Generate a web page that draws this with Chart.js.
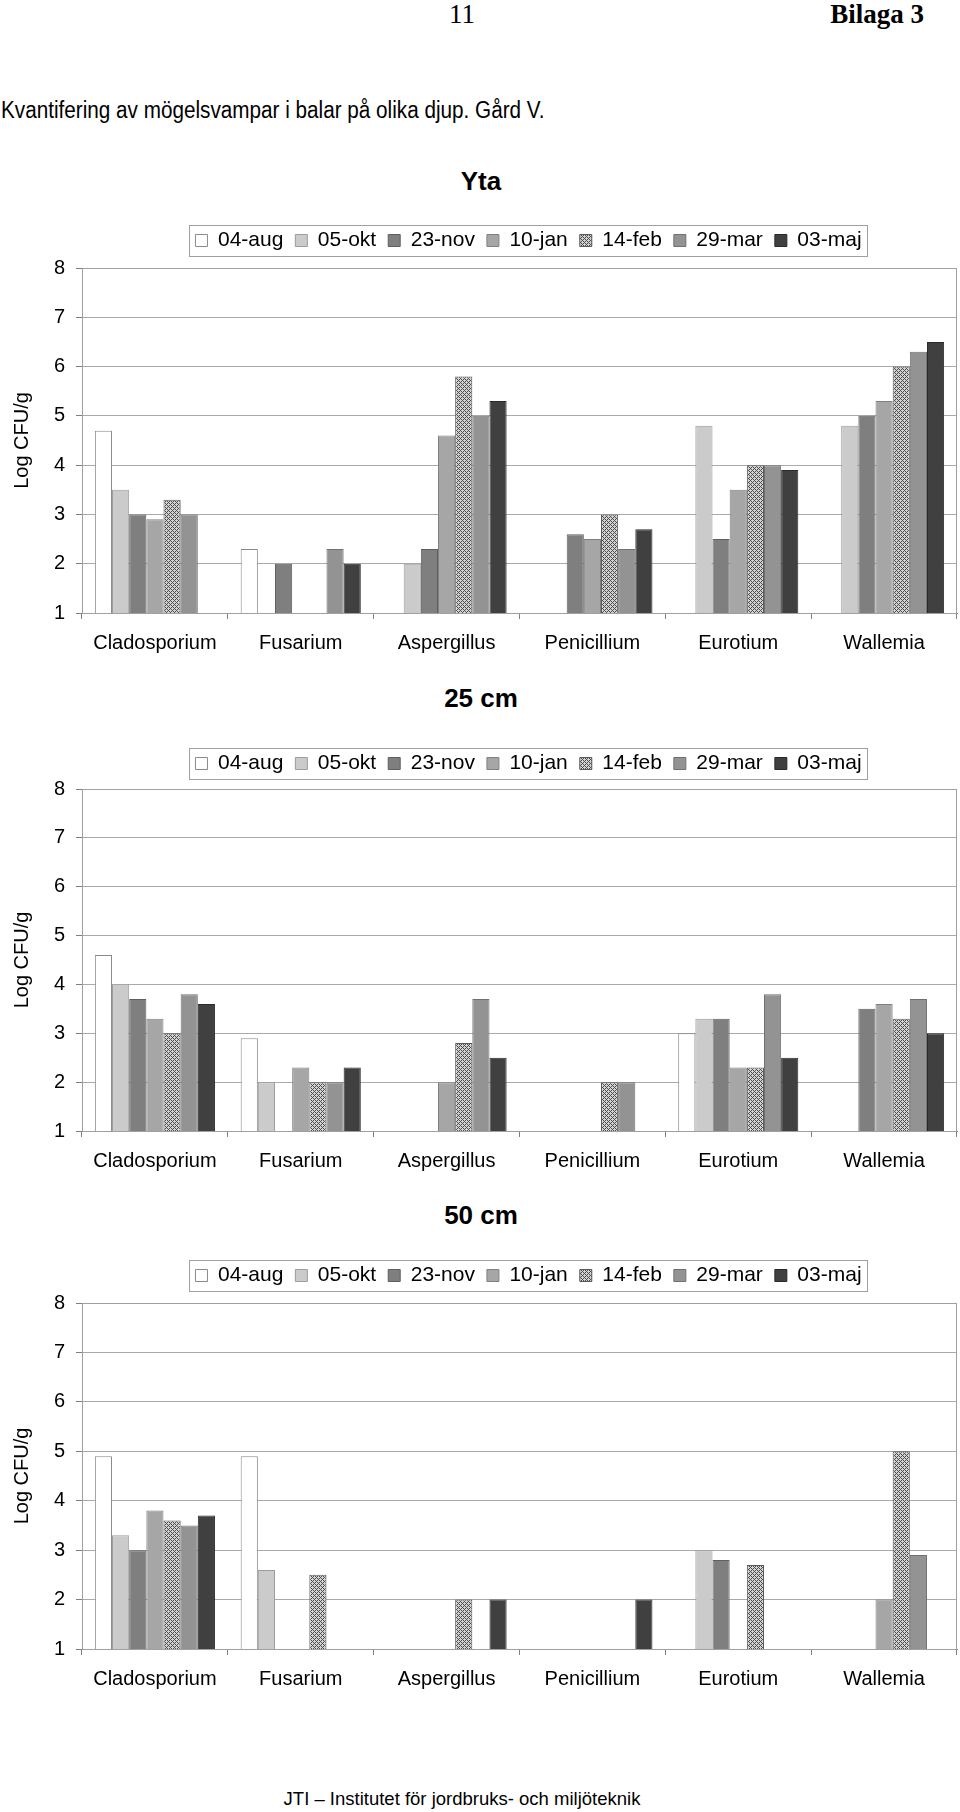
<!DOCTYPE html>
<html lang="sv">
<head>
<meta charset="utf-8">
<title>Kvantifering av mögelsvampar – Gård V</title>
<script src="https://cdn.jsdelivr.net/npm/chart.js@4.4.1/dist/chart.umd.min.js"></script>
<style>
  html, body { margin: 0; padding: 0; background: #fff; }
  body {
    position: relative; width: 960px; height: 1812px; overflow: hidden;
    font-family: "Liberation Sans", Arial, sans-serif; color: #000;
  }
  .txt { position: absolute; white-space: nowrap; line-height: 1; }
  .serif { font-family: "Liberation Serif", "Times New Roman", serif; }
  .title { font-weight: bold; font-size: 26px; left: 481px; transform: translateX(-50%); }
  canvas { position: absolute; left: 0; }
</style>
</head>
<body>

<div class="txt serif" style="left:462px; top:1px; font-size:27px; transform:translateX(-50%)">11</div>
<div class="txt serif" style="right:36px; top:1px; font-size:27px; font-weight:bold">Bilaga 3</div>
<div class="txt" style="left:1px; top:99px; font-size:23px; transform:scaleX(0.9); transform-origin:0 0">Kvantifering av mögelsvampar i balar på olika djup. Gård V.</div>

<div class="txt title" style="top:168px">Yta</div>
<div class="txt title" style="top:685px">25 cm</div>
<div class="txt title" style="top:1202px">50 cm</div>

<canvas id="chartYta"></canvas>
<canvas id="chart25"></canvas>
<canvas id="chart50"></canvas>

<div class="txt" style="left:462px; top:1790px; font-size:18.5px; transform:translateX(-50%)">JTI – Institutet för jordbruks- och miljöteknik</div>

<script>
// --- Data (Log CFU/g, null = no bar) ---
const categories = ['Cladosporium', 'Fusarium', 'Aspergillus', 'Penicillium', 'Eurotium', 'Wallemia'];
const dates = ['04-aug', '05-okt', '23-nov', '10-jan', '14-feb', '29-mar', '03-maj'];

// Yta
const yta04aug = [4.7, 2.3, null, null, null, null];
const yta05okt = [3.5, null, 2.0, null, 4.8, 4.8];
const yta23nov = [3.0, 2.0, 2.3, 2.6, 2.5, 5.0];
const yta10jan = [2.9, null, 4.6, 2.5, 3.5, 5.3];
const yta14feb = [3.3, null, 5.8, 3.0, 4.0, 6.0];
const yta29mar = [3.0, 2.3, 5.0, 2.3, 4.0, 6.3];
const yta03maj = [null, 2.0, 5.3, 2.7, 3.9, 6.5];

// 25 cm
const d25_04aug = [4.6, 2.9, null, null, 3.0, null];
const d25_05okt = [4.0, 2.0, null, null, 3.3, null];
const d25_23nov = [3.7, null, null, null, 3.3, 3.5];
const d25_10jan = [3.3, 2.3, 2.0, null, 2.3, 3.6];
const d25_14feb = [3.0, 2.0, 2.8, 2.0, 2.3, 3.3];
const d25_29mar = [3.8, 2.0, 3.7, 2.0, 3.8, 3.7];
const d25_03maj = [3.6, 2.3, 2.5, null, 2.5, 3.0];

// 50 cm
const d50_04aug = [4.9, 4.9, null, null, null, null];
const d50_05okt = [3.3, 2.6, null, null, 3.0, null];
const d50_23nov = [3.0, null, null, null, 2.8, null];
const d50_10jan = [3.8, null, null, null, null, 2.0];
const d50_14feb = [3.6, 2.5, 2.0, null, 2.7, 5.0];
const d50_29mar = [3.5, null, null, null, null, 2.9];
const d50_03maj = [3.7, null, 2.0, 2.0, null, null];

const yMin = 1;
const yMax = 8;

// --- Styles ---
const fills = ['#ffffff', '#cbcbcb', '#7f7f7f', '#a6a6a6', null, '#939393', '#404040'];
const edges = ['#8a8a8a', '#9c9c9c', '#5f5f5f', '#808080', '#5a5a5a', '#707070', '#2a2a2a'];

// 14-feb is a crosshatched fill in the original
function hatch() {
    const c = document.createElement('canvas');
    c.width = c.height = 4;
    const g = c.getContext('2d');
    g.fillStyle = '#d4d4d4';
    g.fillRect(0, 0, 4, 4);
    g.fillStyle = '#4c4c4c';
    [[0, 0], [1, 1], [2, 2], [3, 3], [1, 3], [3, 1]].forEach(([x, y]) => g.fillRect(x, y, 1, 1));
    return g.createPattern(c, 'repeat');
}
const hatchFill = hatch();

const FONT = '"Liberation Sans", Arial, sans-serif';
Chart.defaults.font.family = FONT;
Chart.defaults.color = '#000';

// legend height fix, legend shift and the grey frames around legend and plot
const framePlugin = {
    id: 'frame',
    beforeLayout(chart, args, opts) {
        const lg = chart.legend;
        if (lg && !lg.$fixed) {
            const fit = lg.fit;
            lg.fit = function () { fit.call(this); this.height = opts.legendHeight; };
            lg.$fixed = true;
        }
    },
    afterLayout(chart, args, opts) {
        chart.legend.left += opts.legendShift;
        chart.legend.right += opts.legendShift;
    },
    beforeDatasetsDraw(chart) {
        const { ctx, chartArea: a } = chart;
        ctx.save();
        ctx.strokeStyle = '#a0a0a0';
        ctx.lineWidth = 1;
        ctx.strokeRect(Math.round(a.left) + 0.5, Math.round(a.top) + 0.5,
            Math.round(a.right - a.left) - 1, Math.round(a.bottom - a.top));
        ctx.restore();
    },
    afterDraw(chart) {
        const boxes = chart.legend.legendHitBoxes;
        if (!boxes || !boxes.length) return;
        const l = Math.min(...boxes.map(b => b.left)) - 6;
        const r = Math.max(...boxes.map(b => b.left + b.width)) + 6;
        const t = boxes[0].top - 5;
        const b = boxes[0].top + boxes[0].height + 5;
        const ctx = chart.ctx;
        ctx.save();
        ctx.strokeStyle = '#a0a0a0';
        ctx.lineWidth = 1;
        ctx.strokeRect(Math.round(l) + 0.5, Math.round(t) + 0.5, Math.round(r - l), Math.round(b - t));
        ctx.restore();
    }
};

function makeDatasets(series) {
    return dates.map((d, i) => ({
        label: d,
        data: series[i],
        backgroundColor: i === 4 ? hatchFill : fills[i],
        borderColor: edges[i],
        borderWidth: 1,
        categoryPercentage: 7 / 8.5,
        barPercentage: 1
    }));
}

function drawChart(id, series, box) {
    const canvas = document.getElementById(id);
    const top = Math.round(box.legendMid - 22.5);
    const axisHeight = 62;
    canvas.width = 960;
    canvas.height = Math.round(box.plotBottom - top + axisHeight);
    canvas.style.top = top + 'px';

    new Chart(canvas, {
        type: 'bar',
        data: { labels: categories, datasets: makeDatasets(series) },
        options: {
            responsive: false,
            animation: false,
            events: [],
            layout: { padding: { top: 0, right: 3, bottom: 0, left: 0 } },
            plugins: {
                legend: {
                    position: 'top',
                    labels: { boxWidth: 12, boxHeight: 12, padding: 12, color: '#000', font: { size: 21 } }
                },
                tooltip: { enabled: false },
                frame: { legendHeight: Math.round(box.plotTop - top), legendShift: 50 }
            },
            scales: {
                x: {
                    grid: { offset: true, drawOnChartArea: false, tickLength: 6, tickColor: '#808080' },
                    border: { color: '#808080' },
                    ticks: { font: { size: 20 }, color: '#000', padding: 12, maxRotation: 0 },
                    afterFit: s => { s.height = axisHeight; }
                },
                y: {
                    min: yMin,
                    max: yMax,
                    grid: { color: '#aaaaaa', tickColor: '#808080', tickLength: 6 },
                    border: { color: '#808080' },
                    ticks: { stepSize: 1, font: { size: 20 }, color: '#000', padding: 11 },
                    title: { display: true, text: 'Log CFU/g', font: { size: 20 }, color: '#000', padding: { top: 10, bottom: 0 } },
                    afterFit: s => { s.width = 82; }
                }
            }
        },
        plugins: [framePlugin]
    });
}

drawChart('chartYta', [yta04aug, yta05okt, yta23nov, yta10jan, yta14feb, yta29mar, yta03maj],
    { legendMid: 240, plotTop: 267.5, plotBottom: 613 });
drawChart('chart25', [d25_04aug, d25_05okt, d25_23nov, d25_10jan, d25_14feb, d25_29mar, d25_03maj],
    { legendMid: 763.5, plotTop: 788.5, plotBottom: 1131 });
drawChart('chart50', [d50_04aug, d50_05okt, d50_23nov, d50_10jan, d50_14feb, d50_29mar, d50_03maj],
    { legendMid: 1275.5, plotTop: 1303, plotBottom: 1648.5 });
</script>
</body>
</html>
